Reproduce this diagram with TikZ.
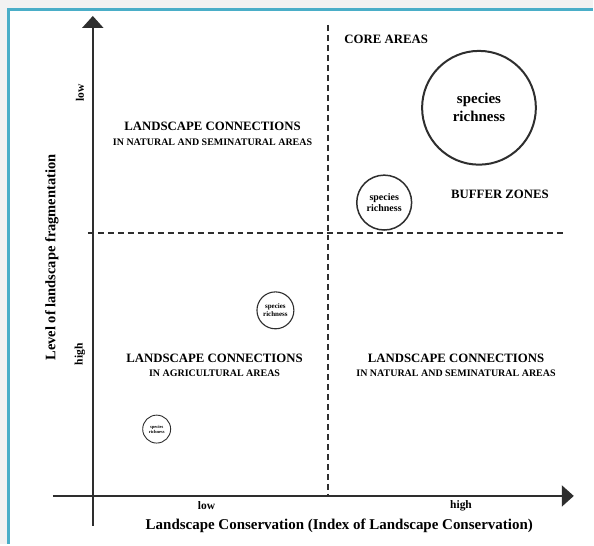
\documentclass[tikz,border=0pt]{standalone}
\usepackage{fontspec}
\setmainfont{Liberation Serif}
\usetikzlibrary{arrows.meta}
\definecolor{framecol}{HTML}{4AAEC8}
\definecolor{pagegray}{HTML}{F2F2F2}
\definecolor{inkgray}{HTML}{2E2E2E}
\newcommand{\subline}{\bfseries\fontsize{10}{10}\selectfont}
\begin{document}
\begin{tikzpicture}[x=1pt,y=-1pt]
        \tikzset{axis/.style = {draw=inkgray, line width=2.2pt, -{Triangle[length=12pt,width=21pt]}}}
        \tikzset{divider/.style = {draw=inkgray, line width=2pt, dash pattern=on 6pt off 4pt}}
        \tikzset{zone/.style = {align=center, font=\bfseries\fontsize{12.8}{12.8}\selectfont, inner sep=0pt}}
        \tikzset{ticktext/.style = {font=\bfseries\fontsize{11.5}{11.5}\selectfont}}
        \tikzset{rich/.style = {circle, draw=inkgray, align=center, inner sep=0pt}}

        \fill[pagegray] (0,0) rectangle (594,545);
        \fill[white] (9,10) rectangle (594,545);
        \draw[framecol, line width=2.5pt] (8.5,545) -- (8.5,9.5) -- (594,9.5);

        \coordinate (ybot) at (93,527);
        \coordinate (ytop) at (93,16);
        \coordinate (xbeg) at (53,497);
        \coordinate (xend) at (575,497);
        \coordinate (vtop) at (329,25);
        \coordinate (vbot) at (329,497);
        \coordinate (hbeg) at (88,233);
        \coordinate (hend) at (566,233);

        \draw[divider] (vtop) -- (vbot);
        \draw[divider] (hbeg) -- (hend);
        \draw[axis] (ybot) -- (ytop);
        \draw[axis] (xbeg) -- (xend);

        \node[rotate=90, ticktext] (ylow) at (80,93) {low};
        \node[rotate=90, ticktext] (yhigh) at (80,355) {high};
        \node[rotate=90, font=\bfseries\fontsize{14.5}{14.5}\selectfont] (ytitle) at (52,258) {Level of landscape fragmentation};
        \node[ticktext] (xlow) at (207,507) {low};
        \node[ticktext] (xhigh) at (462,507) {high};
        \node[font=\bfseries\fontsize{15}{15}\selectfont] (xtitle) at (340,527) {Landscape Conservation (Index of Landscape Conservation)};

        \node[zone] (natural1) at (213,134) {LANDSCAPE CONNECTIONS\\[2pt]{\subline IN NATURAL AND SEMINATURAL AREAS}};
        \node[zone] (agri) at (215,366) {LANDSCAPE CONNECTIONS\\[2pt]{\subline IN AGRICULTURAL AREAS}};
        \node[zone] (natural2) at (457,366) {LANDSCAPE CONNECTIONS\\[2pt]{\subline IN NATURAL AND SEMINATURAL AREAS}};
        \node[zone] (core) at (387,39) {CORE AREAS};
        \node[zone] (buffer) at (501,195) {BUFFER ZONES};

        \node[rich, line width=2pt, minimum size=114pt, font=\bfseries\fontsize{15}{18}\selectfont] (big) at (480,108) {species\\richness};
        \node[rich, line width=1.5pt, minimum size=55pt, font=\bfseries\fontsize{10}{12}\selectfont] (mid) at (385,203) {species\\richness};
        \node[rich, line width=1.1pt, minimum size=37pt, font=\bfseries\fontsize{7}{8.5}\selectfont] (small) at (276,311) {species\\richness};
        \node[rich, line width=0.9pt, minimum size=28pt, font=\bfseries\fontsize{4.5}{5}\selectfont] (tiny) at (157,430) {species\\richness};

\end{tikzpicture}
\end{document}
